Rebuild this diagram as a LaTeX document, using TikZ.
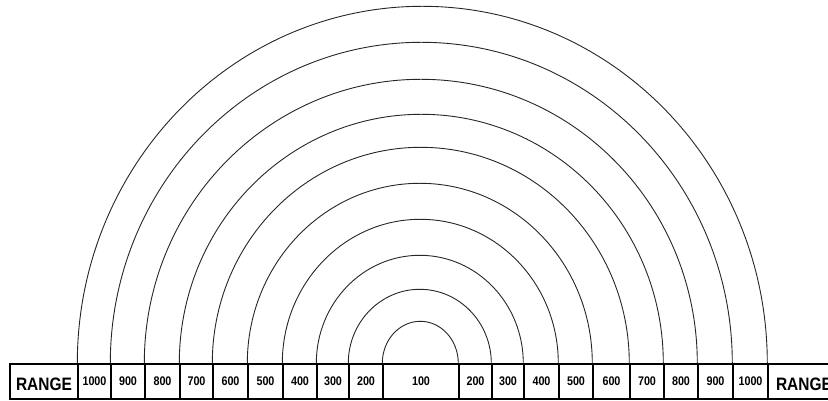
\documentclass[tikz,border=0pt]{standalone}
\usepackage{fontspec}
\setmainfont{Liberation Sans}
\newfontfamily\stripfont[FakeStretch=0.86]{Liberation Sans}
\usetikzlibrary{positioning}
\tikzset{
  fig/.style={x=1pt,y=1pt},
  cell/.style={draw,line width=1.4pt,minimum height=35pt,inner sep=0pt,
               font=\stripfont\fontsize{12.5}{13}\selectfont\bfseries},
  head/.style={cell,text height=18.5pt,
               font=\stripfont\fontsize{18}{19}\selectfont\bfseries},
  ring/.style={line width=0.9pt,black!85},
}

\begin{document}
\begin{tikzpicture}[fig]
\useasboundingbox (0,0) rectangle (828,401);
\clip (0,0) rectangle (828,401);

% Left half of the range strip
\node[head,minimum width=68pt] (rl) at (44,19.5) {RANGE};
\node[cell,minimum width=33pt] (l1000) at (94.5,19.5) {1000};
\node[cell,minimum width=34pt] (l900) at (128,19.5) {900};
\node[cell,minimum width=35pt] (l800) at (162.5,19.5) {800};
\node[cell,minimum width=33pt] (l700) at (196.5,19.5) {700};
\node[cell,minimum width=35pt] (l600) at (230.5,19.5) {600};
\node[cell,minimum width=35pt] (l500) at (265.5,19.5) {500};
\node[cell,minimum width=34pt] (l400) at (300,19.5) {400};
\node[cell,minimum width=32pt] (l300) at (333,19.5) {300};
\node[cell,minimum width=34pt] (l200) at (366,19.5) {200};

% Centre cell
\node[cell,minimum width=76pt] (c100) at (421,19.5) {100};

% Right half of the range strip
\node[cell,minimum width=33pt] (r200) at (475.5,19.5) {200};
\node[cell,minimum width=32pt] (r300) at (508,19.5) {300};
\node[cell,minimum width=35pt] (r400) at (541.5,19.5) {400};
\node[cell,minimum width=34pt] (r500) at (576,19.5) {500};
\node[cell,minimum width=37pt] (r600) at (611.5,19.5) {600};
\node[cell,minimum width=34pt] (r700) at (647,19.5) {700};
\node[cell,minimum width=34pt] (r800) at (681,19.5) {800};
\node[cell,minimum width=35pt] (r900) at (715.5,19.5) {900};
\node[cell,minimum width=35pt] (r1000) at (750.5,19.5) {1000};
\node[head,minimum width=72pt] (rr) at (804,19.5) {RANGE};

% Range rings, from each left cell to the matching right cell
\draw[ring] (c100.north west) arc[start angle=180,end angle=0,x radius=38,y radius=42];
\foreach \a/\b/\rx/\ry in {l200/r200/71.5/74, l300/r300/103.5/108, l400/r400/138/144,
    l500/r500/172.5/180, l600/r600/208.5/216, l700/r700/242/249,
    l800/r800/276.5/284, l900/r900/311/321, l1000/r1000/345/357}
  \draw[ring] (\a.north west) arc[start angle=180,end angle=0,x radius=\rx,y radius=\ry];

\end{tikzpicture}
\end{document}
